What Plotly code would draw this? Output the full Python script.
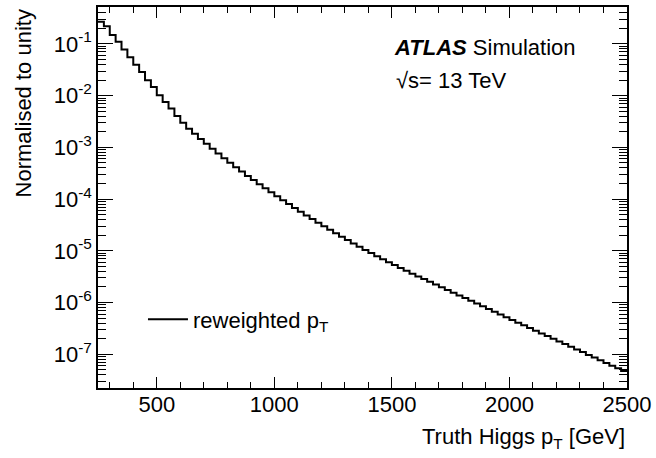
import plotly.graph_objects as go

# Truth Higgs pT binning (GeV): 25 GeV bins from 250 to 2500
bin_width = 25
bin_low = list(range(250, 2500, bin_width))

# Normalised bin contents of the reweighted pT distribution
norm_values = [
    0.269, 0.219, 0.149, 0.111, 0.0780, 0.0555, 0.0395, 0.0286, 0.0198, 0.0147,
    0.0102, 0.00758, 0.00564, 0.00403, 0.00300, 0.00230, 0.00183, 0.00146, 0.00117, 9.40e-4,
    7.60e-4, 6.17e-4, 5.04e-4, 4.13e-4, 3.40e-4, 2.81e-4, 2.33e-4, 1.94e-4, 1.62e-4, 1.35e-4,
    1.13e-4, 9.53e-5, 8.02e-5, 6.76e-5, 5.71e-5, 4.84e-5, 4.11e-5, 3.50e-5, 2.98e-5, 2.55e-5,
    2.18e-5, 1.87e-5, 1.61e-5, 1.39e-5, 1.20e-5, 1.04e-5, 9.03e-6, 7.88e-6, 6.88e-6, 6.03e-6,
    5.29e-6, 4.65e-6, 4.10e-6, 3.62e-6, 3.20e-6, 2.84e-6, 2.51e-6, 2.23e-6, 1.98e-6, 1.75e-6,
    1.55e-6, 1.37e-6, 1.22e-6, 1.08e-6, 9.53e-7, 8.43e-7, 7.47e-7, 6.61e-7, 5.86e-7, 5.19e-7,
    4.59e-7, 4.07e-7, 3.62e-7, 3.21e-7, 2.85e-7, 2.53e-7, 2.24e-7, 1.99e-7, 1.77e-7, 1.57e-7,
    1.39e-7, 1.23e-7, 1.10e-7, 9.71e-8, 8.62e-8, 7.65e-8, 6.79e-8, 6.02e-8, 5.35e-8, 4.75e-8,
]

x_ticks = [500, 1000, 1500, 2000, 2500]
x_minor = [300, 400, 600, 700, 800, 900, 1100, 1200, 1300, 1400, 1600, 1700, 1800, 1900,
           2100, 2200, 2300, 2400]
y_exponents = [-7, -6, -5, -4, -3, -2, -1]

# step outline: left edges plus the closing right edge of the last bin
step_x = bin_low + [bin_low[-1] + bin_width]
step_y = norm_values + [norm_values[-1]]

y_major = [10.0 ** e for e in y_exponents]
y_major_text = ["10<sup>-%d</sup>" % (-e) for e in y_exponents]
y_minor = [m * 10.0 ** e for e in range(-8, 0) for m in range(2, 10)]

FONT = "Liberation Sans, Arial, Helvetica, sans-serif"
FS = 22

fig = go.Figure()
fig.add_trace(go.Scatter(
    x=step_x, y=step_y, mode="lines", line=dict(shape="hv", color="black", width=2),
    name="reweighted p<sub>T</sub>",
))

fig.update_layout(
    width=656, height=458,
    margin=dict(l=98, r=26, t=5, b=70),
    paper_bgcolor="white", plot_bgcolor="white",
    font=dict(family=FONT, size=FS, color="black"),
    showlegend=True,
    legend=dict(x=0.085, y=0.18, xanchor="left", yanchor="middle",
                bgcolor="rgba(0,0,0,0)", font=dict(size=FS), itemwidth=40),
    xaxis=dict(
        range=[250, 2500], showgrid=False, zeroline=False,
        showline=True, linecolor="black", linewidth=1.5, mirror="ticks",
        ticks="inside", ticklen=11, tickwidth=1, tickcolor="black",
        tickvals=x_ticks, ticktext=[str(v) for v in x_ticks],
        tickfont=dict(size=FS), ticklabelstandoff=-4,
        minor=dict(tickmode="array", tickvals=x_minor, ticks="inside", ticklen=6,
                   tickwidth=1, tickcolor="black", showgrid=False),
    ),
    yaxis=dict(
        type="log", range=[-7.653, -0.285], showgrid=False, zeroline=False,
        showline=True, linecolor="black", linewidth=1.5, mirror="ticks",
        ticks="inside", ticklen=15, tickwidth=1, tickcolor="black",
        tickvals=y_major, ticktext=y_major_text, tickfont=dict(size=FS),
        minor=dict(tickmode="array", tickvals=y_minor, ticks="inside", ticklen=8,
                   tickwidth=1, tickcolor="black", showgrid=False),
    ),
)

fig.add_annotation(text="Normalised to unity", xref="paper", yref="paper",
                   x=-0.141, y=1.0, xanchor="center", yanchor="top", textangle=-90,
                   showarrow=False, font=dict(size=FS))
fig.add_annotation(text="Truth Higgs p<sub>T</sub> [GeV]", xref="paper", yref="paper",
                   x=1.0, y=-0.13, xanchor="right", yanchor="middle",
                   showarrow=False, font=dict(size=FS))
fig.add_annotation(text="<b><i>ATLAS</i></b> Simulation", xref="paper", yref="paper",
                   x=0.555, y=0.893, xanchor="left", yanchor="middle",
                   showarrow=False, font=dict(size=FS))
fig.add_annotation(text="√s= 13 TeV", xref="paper", yref="paper",
                   x=0.559, y=0.807, xanchor="left", yanchor="middle",
                   showarrow=False, font=dict(size=FS))

fig.write_html("out.html")
